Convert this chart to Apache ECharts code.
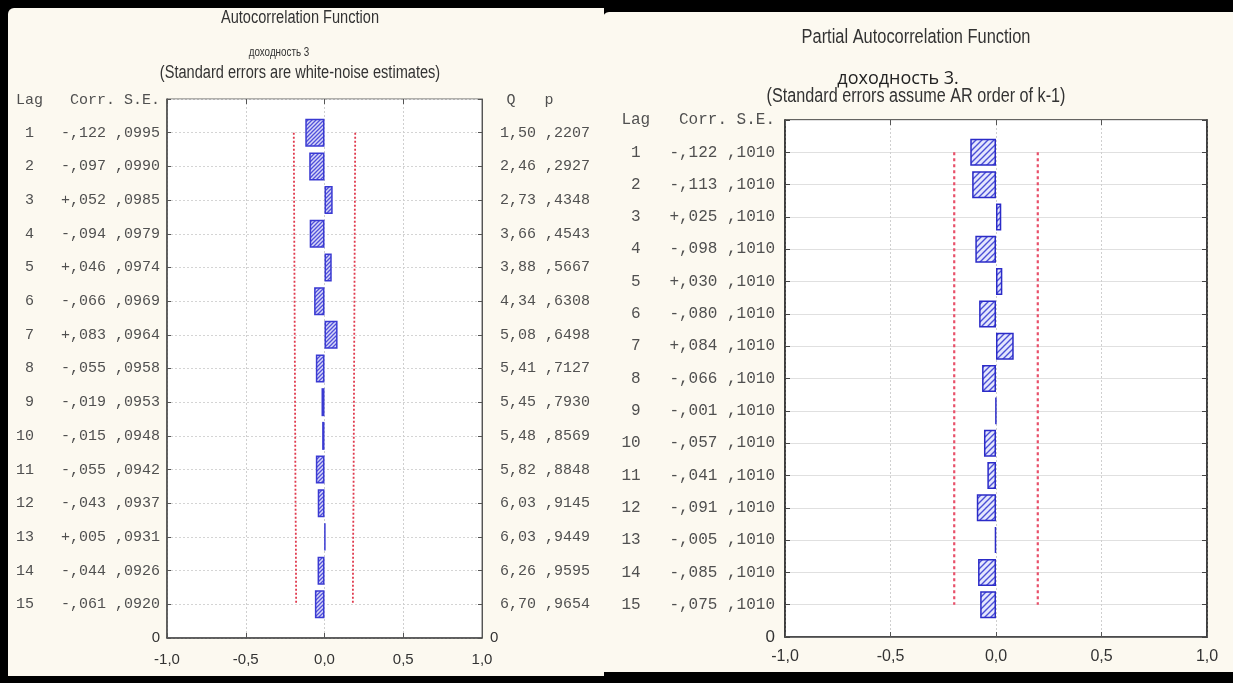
<!DOCTYPE html>
<html><head><meta charset="utf-8">
<script src="https://cdn.jsdelivr.net/npm/echarts@6/dist/echarts.min.js"></script>
<style>
html,body{margin:0;padding:0;background:#000;width:1233px;height:683px;overflow:hidden;}
.pn{position:absolute;background:#fcf9f0;}
#p1{left:8px;top:8px;width:596px;height:668px;border-radius:6px 0 0 0;}
#p2{left:603px;top:12px;width:630px;height:660px;border-radius:6px 0 0 0;}
#c{position:absolute;left:0;top:0;width:1233px;height:683px;}
</style>
</head><body>
<div class="pn" id="p1"></div><div class="pn" id="p2"></div>
<div id="c"></div>
<script>
// ---- data ----
const lags = [1,2,3,4,5,6,7,8,9,10,11,12,13,14,15];
const acfCorr = [-0.122,-0.097,0.052,-0.094,0.046,-0.066,0.083,-0.055,-0.019,-0.015,-0.055,-0.043,0.005,-0.044,-0.061];
const acfSE = [0.0995,0.0990,0.0985,0.0979,0.0974,0.0969,0.0964,0.0958,0.0953,0.0948,0.0942,0.0937,0.0931,0.0926,0.0920];
const acfQ = [1.50,2.46,2.73,3.66,3.88,4.34,5.08,5.41,5.45,5.48,5.82,6.03,6.03,6.26,6.70];
const acfP = [0.2207,0.2927,0.4348,0.4543,0.5667,0.6308,0.6498,0.7127,0.7930,0.8569,0.8848,0.9145,0.9449,0.9595,0.9654];
const acfLimit = [0.195,0.194,0.193,0.192,0.191,0.190,0.189,0.188,0.187,0.186,0.185,0.184,0.182,0.181,0.180];
const pacfCorr = [-0.122,-0.113,0.025,-0.098,0.030,-0.080,0.084,-0.066,-0.001,-0.057,-0.041,-0.091,-0.005,-0.085,-0.075];
const pacfSE = [0.1010,0.1010,0.1010,0.1010,0.1010,0.1010,0.1010,0.1010,0.1010,0.1010,0.1010,0.1010,0.1010,0.1010,0.1010];
const pacfLimit = [0.198,0.198,0.198,0.198,0.198,0.198,0.198,0.198,0.198,0.198,0.198,0.198,0.198,0.198,0.198];
const xTicks = [-1.0,-0.5,0.0,0.5,1.0];
const yCats = ['0'].concat(lags.slice().reverse().map(String), ['']);

// ---- helpers ----
const MONO = '"Liberation Mono","DejaVu Sans Mono",monospace';
const SANS = '"Liberation Sans",Arial,sans-serif';
const fmtCorr = v => (v < 0 ? '-' : '+') + ',' + String(Math.round(Math.abs(v)*1000)).padStart(3,'0');
const fmt4 = v => ',' + String(Math.round(v*10000)).padStart(4,'0');
const fmtQ = v => v.toFixed(2).replace('.', ',');
const fmtX = v => (Math.abs(v) < 1e-9 ? 0 : v).toFixed(1).replace('.', ',');

function hatch(bg, fg, step, lw){
  const c = document.createElement('canvas'); c.width = step; c.height = step;
  const g = c.getContext('2d');
  g.fillStyle = bg; g.fillRect(0,0,step,step);
  g.strokeStyle = fg; g.lineWidth = lw;
  g.beginPath();
  g.moveTo(0, step); g.lineTo(step, 0);
  g.moveTo(-1, 1); g.lineTo(1, -1);
  g.moveTo(step-1, step+1); g.lineTo(step+1, step-1);
  g.stroke();
  return c;
}
const pat1 = hatch('#d8d8f8', '#5050da', 4, 1.3);
const pat2 = hatch('#e4e6fd', '#4a4fd6', 6, 1.4);

function idxOf(k){ return yCats.indexOf(String(k)); }

function leftLabel(corr, se){
  return function(val){
    if (val === '0') return '{z|0}';
    if (val === '') return '';
    const k = +val;
    return '{m|' + String(k).padStart(2,' ') + '   ' + fmtCorr(corr[k-1]) + ' ' + fmt4(se[k-1]) + '}';
  };
}

const chart = echarts.init(document.getElementById('c'), null, {renderer:'canvas'});

const xBase = (grid, size, margin, lineW) => ([
  { gridIndex: grid, type:'value', min:-1, max:1, interval:0.5, position:'bottom',
    axisLine:{show:true, onZero:false, lineStyle:{color:'#444', width:lineW}},
    axisTick:{show:true, inside:true, length:5, lineStyle:{color:'#555'}},
    axisLabel:{formatter: fmtX, fontFamily: SANS, fontSize: size, color:'#333', margin: margin},
    splitLine:{show:true, lineStyle:{color:'#cfcfcf', type:[2,2], width:1}} },
  { gridIndex: grid, type:'value', min:-1, max:1, interval:0.5, position:'top',
    axisLine:{show:false, onZero:false}, axisLabel:{show:false}, splitLine:{show:false},
    axisTick:{show:true, inside:true, length:5, lineStyle:{color:'#555'}} }
]);

const option = {
  backgroundColor: 'transparent',
  animation: false,
  grid: [
    {left:167, top:99, width:315, height:539, show:true, backgroundColor:'#ffffff', borderColor:'#666', borderWidth:1},
    {left:785, top:120, width:422, height:517, show:true, backgroundColor:'#ffffff', borderColor:'#333', borderWidth:1.5}
  ],
  xAxis: xBase(0, 15, 14, 1.5).concat(xBase(1, 16, 12, 1.5)),
  yAxis: [
    { gridIndex:0, type:'category', data: yCats, boundaryGap:false, position:'left',
      axisLine:{show:true, onZero:false, lineStyle:{color:'#444', width:1.5}},
      axisTick:{show:true, inside:true, length:4, interval:0, lineStyle:{color:'#555'}},
      splitLine:{show:true, interval:0, lineStyle:{color:'#d4d4d4', type:[2,2]}},
      axisLabel:{interval:0, margin:7, formatter: leftLabel(acfCorr, acfSE),
        rich:{ m:{fontFamily:MONO, fontSize:15, color:'#505050'}, z:{fontFamily:SANS, fontSize:15, color:'#333'} } } },
    { gridIndex:0, type:'category', data: yCats, boundaryGap:false, position:'right',
      axisLine:{show:true, onZero:false, lineStyle:{color:'#555', width:1}},
      axisTick:{show:true, inside:true, length:4, interval:0, lineStyle:{color:'#555'}},
      splitLine:{show:false},
      axisLabel:{interval:0, margin:8, formatter: function(val){
          if (val === '0') return '{z|0}';
          if (val === '') return '';
          const k = +val;
          return '{m|' + fmtQ(acfQ[k-1]) + ' ' + fmt4(acfP[k-1]) + '}';
        },
        rich:{ m:{fontFamily:MONO, fontSize:15, color:'#505050', padding:[0,0,0,10]}, z:{fontFamily:SANS, fontSize:15, color:'#333'} } } },
    { gridIndex:1, type:'category', data: yCats, boundaryGap:false, position:'left',
      axisLine:{show:true, onZero:false, lineStyle:{color:'#333', width:1.5}},
      axisTick:{show:true, inside:true, length:5, interval:0, lineStyle:{color:'#444'}},
      splitLine:{show:true, interval:0, lineStyle:{color:'#e0e0e0', type:'solid'}},
      axisLabel:{interval:0, margin:10, formatter: leftLabel(pacfCorr, pacfSE),
        rich:{ m:{fontFamily:MONO, fontSize:16, color:'#505050'}, z:{fontFamily:SANS, fontSize:17, color:'#333'} } } },
    { gridIndex:1, type:'category', data: yCats, boundaryGap:false, position:'right',
      axisLine:{show:true, onZero:false, lineStyle:{color:'#333', width:1.5}},
      axisTick:{show:true, inside:true, length:5, interval:0, lineStyle:{color:'#444'}},
      splitLine:{show:false}, axisLabel:{show:false} }
  ],
  series: [
    { type:'bar', xAxisIndex:0, yAxisIndex:0, barWidth:28, z:5,
      data: yCats.map(c => (c !== '' && +c >= 1) ? acfCorr[+c-1] : null),
      itemStyle:{ color:{image: pat1, repeat:'repeat'}, borderColor:'#3a3ad2', borderWidth:1.5 } },
    { type:'line', xAxisIndex:0, yAxisIndex:0, symbol:'none', z:3,
      data: lags.map((k,i) => [acfLimit[i], idxOf(k)]),
      lineStyle:{color:'#e03a4e', width:1.8, type:[2,2]} },
    { type:'line', xAxisIndex:0, yAxisIndex:0, symbol:'none', z:3,
      data: lags.map((k,i) => [-acfLimit[i], idxOf(k)]),
      lineStyle:{color:'#e03a4e', width:1.8, type:[2,2]} },
    { type:'bar', xAxisIndex:2, yAxisIndex:2, barWidth:27, z:5,
      data: yCats.map(c => (c !== '' && +c >= 1) ? pacfCorr[+c-1] : null),
      itemStyle:{ color:{image: pat2, repeat:'repeat'}, borderColor:'#2b2bc8', borderWidth:1.5 } },
    { type:'line', xAxisIndex:2, yAxisIndex:2, symbol:'none', z:3,
      data: lags.map((k,i) => [pacfLimit[i], idxOf(k)]),
      lineStyle:{color:'#e8506a', width:2.2, type:[3,3]} },
    { type:'line', xAxisIndex:2, yAxisIndex:2, symbol:'none', z:3,
      data: lags.map((k,i) => [-pacfLimit[i], idxOf(k)]),
      lineStyle:{color:'#e8506a', width:2.2, type:[3,3]} }
  ],
  graphic: [
    {type:'text', x:300, y:18, scaleX:0.81, style:{text:'Autocorrelation Function', font:'18px '+SANS, fill:'#333', textAlign:'center', textVerticalAlign:'middle'}},
    {type:'text', x:279, y:53, scaleX:0.82, style:{text:'доходность 3', font:'12px '+SANS, fill:'#333', textAlign:'center', textVerticalAlign:'middle'}},
    {type:'text', x:300, y:73, scaleX:0.81, style:{text:'(Standard errors are white-noise estimates)', font:'18px '+SANS, fill:'#333', textAlign:'center', textVerticalAlign:'middle'}},
    {type:'text', x:160, y:100, style:{text:'Lag   Corr. S.E.', font:'15px '+MONO, fill:'#505050', textAlign:'right', textVerticalAlign:'middle'}},
    {type:'text', x:511, y:100, style:{text:'Q', font:'15px '+MONO, fill:'#505050', textAlign:'center', textVerticalAlign:'middle'}},
    {type:'text', x:549, y:100, style:{text:'p', font:'15px '+MONO, fill:'#505050', textAlign:'center', textVerticalAlign:'middle'}},
    {type:'text', x:916, y:37, scaleX:0.82, style:{text:'Partial Autocorrelation Function', font:'20px '+SANS, fill:'#333', textAlign:'center', textVerticalAlign:'middle'}},
    {type:'text', x:898, y:79, style:{text:'доходность 3.', font:'18px "Open Sans","Noto Sans",sans-serif', fill:'#222', textAlign:'center', textVerticalAlign:'middle'}},
    {type:'text', x:916, y:96, scaleX:0.81, style:{text:'(Standard errors assume AR order of k-1)', font:'20px '+SANS, fill:'#333', textAlign:'center', textVerticalAlign:'middle'}},
    {type:'text', x:775, y:120, style:{text:'Lag   Corr. S.E.', font:'16px '+MONO, fill:'#505050', textAlign:'right', textVerticalAlign:'middle'}}
  ]
};
chart.setOption(option);
</script>
</body></html>
